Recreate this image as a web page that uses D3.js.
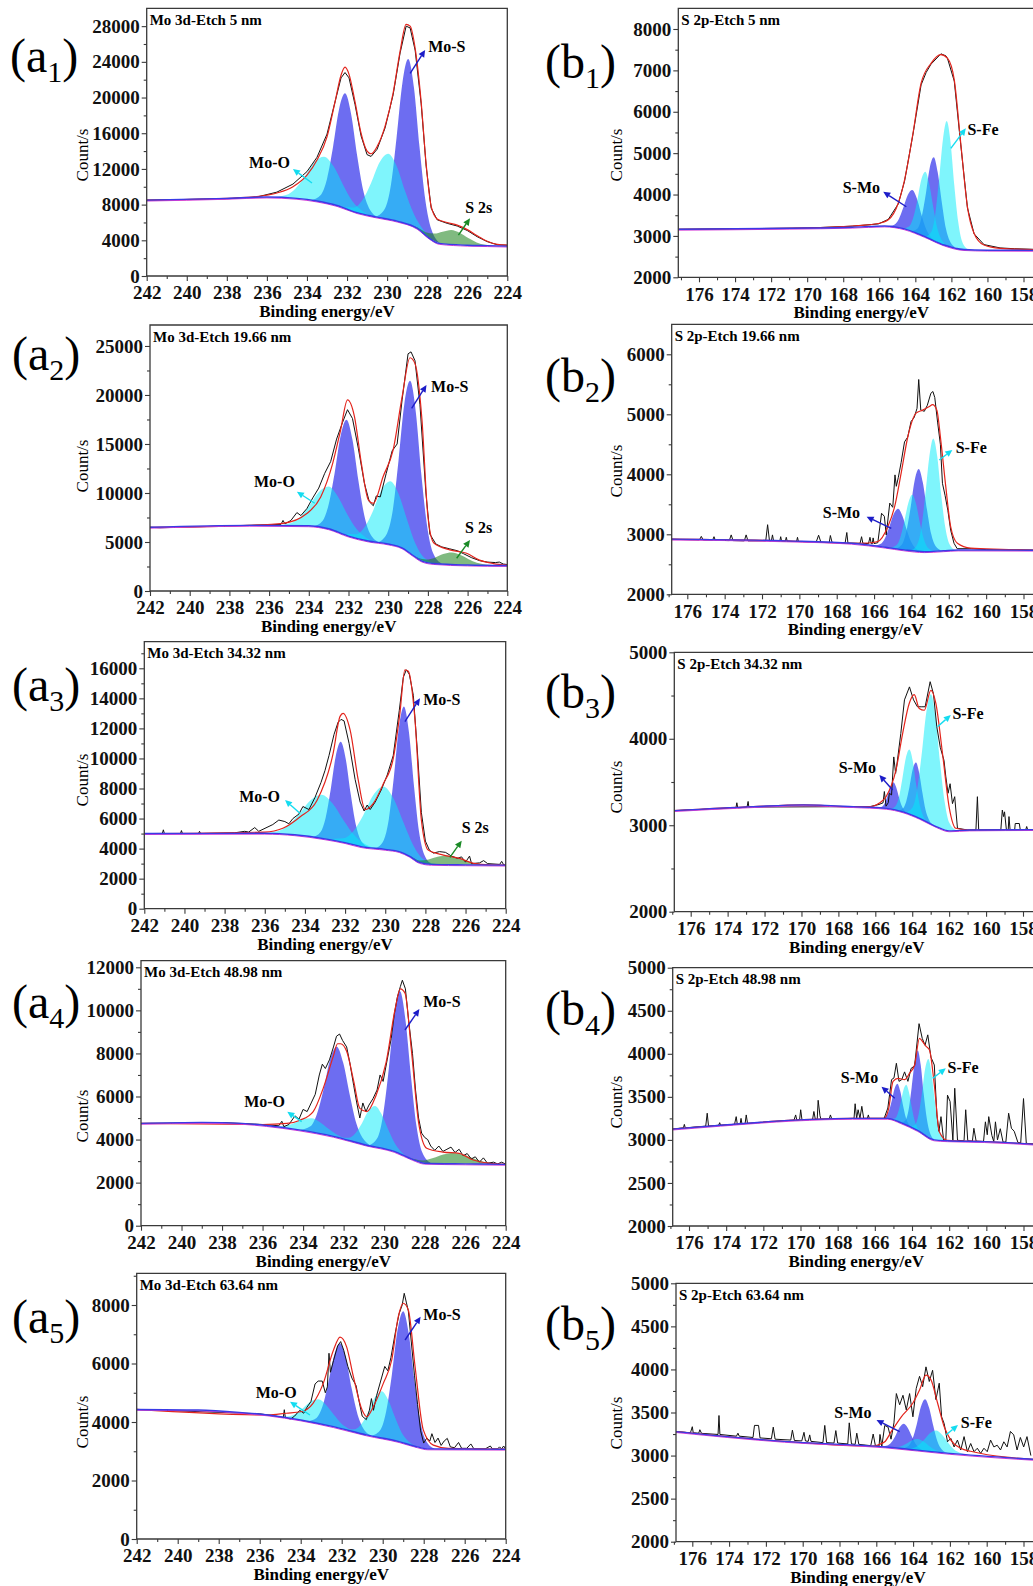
<!DOCTYPE html>
<html>
<head>
<meta charset="utf-8">
<script src="https://cdn.jsdelivr.net/npm/d3@7"></script>
<style>
  body { margin: 0; background: #fff; }
  svg text { font-family: "Liberation Serif", "Times New Roman", serif; }
</style>
</head>
<body>
<svg id="chart" width="1033" height="1586"></svg>
<script>
// ---- tick labels ----
const MO_TICKS = [242, 240, 238, 236, 234, 232, 230, 228, 226, 224];
const S_TICKS = [176, 174, 172, 170, 168, 166, 164, 162, 160, 158];
const a1Y = [0, 4000, 8000, 12000, 16000, 20000, 24000, 28000];
const a2Y = [0, 5000, 10000, 15000, 20000, 25000];
const a3Y = [0, 2000, 4000, 6000, 8000, 10000, 12000, 14000, 16000];
const a4Y = [0, 2000, 4000, 6000, 8000, 10000, 12000];
const a5Y = [0, 2000, 4000, 6000, 8000];
const b1Y = [2000, 3000, 4000, 5000, 6000, 7000, 8000];
const b2Y = [2000, 3000, 4000, 5000, 6000];
const b3Y = [2000, 3000, 4000, 5000];
const b4Y = [2000, 2500, 3000, 3500, 4000, 4500, 5000];
const b5Y = [2000, 2500, 3000, 3500, 4000, 4500, 5000];

// ---- (a1) Mo 3d, 5 nm ----  [eV, counts]; components are [eV, counts above background]
const a1Bg = [[242,8500],[238,8700],[236,8850],[234.5,8700],[233.5,8400],[232.5,7900],[231.5,7100],[230.5,6600],[229.5,6150],[228.5,5350],[227.9,4250],[227.4,3650],[226,3450],[225,3400],[224,3350]];
const a1Env = [[242,8500],[238,8700],[236.5,8900],[235.5,9300],[234.7,10000],[234,11300],[233.5,13000],[233,15600],[232.6,19500],[232.3,22500],[232.1,23400],[231.9,22600],[231.6,19500],[231.3,16000],[231.0,14000],[230.8,13700],[230.5,14500],[230.1,16800],[229.7,20500],[229.35,25200],[229.05,28200],[228.85,28000],[228.6,25500],[228.3,19500],[228.05,12500],[227.8,7800],[227.5,6400],[227.0,6000],[226.5,5700],[226,5200],[225.5,4500],[225,3900],[224.5,3550],[224,3450]];
const a1Raw = [[242,8500],[238,8650],[236.5,8850],[235.5,9400],[234.7,10300],[234,11700],[233.5,13300],[233,15900],[232.6,19500],[232.3,22200],[232.1,22800],[231.9,22200],[231.6,19200],[231.3,15700],[231.0,13600],[230.8,13400],[230.5,14200],[230.1,16600],[229.7,20300],[229.35,25000],[229.05,28000],[228.85,27800],[228.6,25300],[228.3,19300],[228.05,12300],[227.8,7600],[227.5,6300],[227.0,5900],[226.5,5600],[226,5100],[225.5,4400],[225,3850],[224.5,3500],[224,3450]];
const a1MoS52 = [[230.56,0],[230.1,1160],[229.81,3900],[229.53,9300],[229.24,15640],[228.95,18600],[228.66,15640],[228.38,9300],[228.09,3900],[227.8,1160],[227.34,0]];
const a1MoS32 = [[233.78,0],[233.3,806],[233.0,2709],[232.7,6450],[232.4,10850],[232.1,12900],[231.8,10850],[231.5,6450],[231.2,2709],[230.9,806],[230.42,0]];
const a1MoO32 = [[235.81,0],[235.05,322],[234.58,1080],[234.1,2575],[233.63,4330],[233.15,5150],[232.68,4330],[232.2,2575],[231.73,1080],[231.25,322],[230.49,0]];
const a1MoO52 = [[232.33,0],[231.65,460],[231.23,1544],[230.8,3675],[230.38,6180],[229.95,7350],[229.53,6180],[229.1,3675],[228.68,1544],[228.25,460],[227.57,0]];
const a1S2s = [[229.18,0],[228.5,100],[228.08,336],[227.65,800],[227.23,1346],[226.8,1600],[226.38,1346],[225.95,800],[225.53,336],[225.1,100],[224.42,0]];

// ---- (a2) Mo 3d, 19.66 nm ----
const a2Bg = [[242,6500],[237,6700],[234,6650],[233,6350],[232,5600],[231,5100],[230,4800],[229.3,4400],[228.8,3700],[228.3,3050],[227.7,2800],[226,2650],[224,2600]];
const a2Env = [[242,6500],[237,6700],[235.3,6900],[234.1,7900],[233.4,9600],[232.8,13000],[232.4,16400],[232.05,19500],[231.7,17800],[231.35,13000],[231.0,9300],[230.75,8950],[230.25,11700],[229.75,14400],[229.3,19800],[228.9,23800],[228.65,23200],[228.3,17500],[228.0,7600],[227.7,4900],[226.9,4200],[226.05,3850],[225.4,3150],[224.7,2800],[224,2650]];
const a2Raw = [[242,6500],[241.5,6450],[237,6700],[235.4,6800],[235.3,7200],[235.2,6850],[234.9,7200],[234.6,8000],[234.4,7700],[234.1,8400],[233.8,9500],[233.5,10500],[233.2,12000],[232.9,13200],[232.6,15500],[232.3,17200],[232.05,18500],[231.8,17600],[231.5,14500],[231.2,11000],[230.95,9100],[230.75,8700],[230.6,9700],[230.4,9600],[230.1,12000],[229.8,14300],[229.55,15000],[229.3,19500],[229.0,24200],[228.85,24400],[228.65,23500],[228.4,19000],[228.1,10000],[227.9,5800],[227.6,4800],[227.3,4500],[226.9,4300],[226.5,4100],[226.2,3800],[225.8,3400],[225.4,3100],[225,2950],[224.6,2900],[224.4,2950],[224.2,2750],[224,2700]];
const a2MoS52 = [[230.51,0],[230.05,1100],[229.76,3700],[229.48,8800],[229.19,14800],[228.9,17600],[228.61,14800],[228.33,8800],[228.04,3700],[227.75,1100],[227.29,0]];
const a2MoS32 = [[233.78,0],[233.3,740],[233.0,2480],[232.7,5900],[232.4,9920],[232.1,11800],[231.8,9920],[231.5,5900],[231.2,2480],[230.9,740],[230.42,0]];
const a2MoO32 = [[235.66,0],[234.9,270],[234.43,900],[233.95,2150],[233.48,3620],[233.0,4300],[232.53,3620],[232.05,2150],[231.58,900],[231.1,270],[230.34,0]];
const a2MoO52 = [[232.28,0],[231.6,400],[231.18,1355],[230.75,3225],[230.33,5425],[229.9,6450],[229.48,5425],[229.05,3225],[228.63,1355],[228.2,400],[227.52,0]];
const a2S2s = [[229.18,0],[228.5,75],[228.08,252],[227.65,600],[227.23,1010],[226.8,1200],[226.38,1010],[225.95,600],[225.53,252],[225.1,75],[224.42,0]];

// ---- (a3) Mo 3d, 34.32 nm ----
const a3Bg = [[242,5000],[236,5020],[234.5,4920],[233,4650],[232,4400],[231.2,4130],[230,3950],[229.3,3800],[228.8,3500],[228.3,3080],[227.7,2950],[226,2920],[224,2900]];
const a3Env = [[242,5000],[236,5100],[235.1,5350],[234.25,6100],[233.4,7200],[232.6,10300],[232.25,12800],[232.1,13000],[231.75,11900],[231.35,8600],[231.0,6600],[230.6,7000],[230.1,8300],[229.6,10000],[229.27,13000],[229.02,15900],[228.85,15800],[228.52,12600],[228.2,5900],[227.86,3900],[227.1,3570],[226.3,3350],[225.6,3020],[224.8,2920],[224,2910]];
const a3Raw = [[242,5000],[241.1,5010],[241.05,5250],[241,5000],[240.2,5000],[240.15,5200],[240.1,5000],[239.3,5000],[239.25,5150],[239.2,5000],[237.5,5050],[237,5150],[236.8,5100],[236.5,5400],[236.3,5150],[235.6,5600],[235.3,5900],[235.0,5800],[234.8,5650],[234.6,6000],[234.3,6300],[234.1,6800],[233.8,6600],[233.5,7400],[233.2,8400],[233.0,9200],[232.8,10200],[232.55,11600],[232.35,12400],[232.2,12600],[232.05,12500],[231.8,11000],[231.5,8600],[231.25,7100],[231.05,6500],[230.9,6900],[230.75,6600],[230.5,7100],[230.2,7900],[229.9,8900],[229.6,10200],[229.3,13200],[229.1,15400],[228.95,15900],[228.8,15600],[228.6,14200],[228.4,10500],[228.2,6400],[228.0,4500],[227.8,3900],[227.6,3700],[227.3,3800],[227.0,3750],[226.7,3500],[226.4,3350],[226.2,3450],[226.0,3100],[225.8,3500],[225.7,3000],[225.3,3050],[225.1,3200],[224.9,3000],[224.3,2950],[224.2,3150],[224.1,2920],[224,2900]];
const a3MoS52 = [[230.47,0],[230.07,612],[229.82,2058],[229.57,4900],[229.32,8240],[229.07,9800],[228.82,8240],[228.57,4900],[228.32,2058],[228.07,612],[227.67,0]];
const a3MoS32 = [[233.62,0],[233.22,415],[232.97,1397],[232.72,3325],[232.47,5590],[232.22,6650],[231.97,5590],[231.72,3325],[231.47,1397],[231.22,415],[230.82,0]];
const a3MoO32 = [[236.25,0],[235.37,180],[234.82,610],[234.27,1450],[233.72,2440],[233.17,2900],[232.62,2440],[232.07,1450],[231.52,610],[230.97,180],[230.09,0]];
const a3MoO52 = [[232.9,0],[232.1,260],[231.6,875],[231.1,2085],[230.6,3507],[230.1,4170],[229.6,3507],[229.1,2085],[228.6,875],[228.1,260],[227.3,0]];
const a3S2s = [[229.46,0],[228.74,38],[228.29,126],[227.84,300],[227.39,505],[226.94,600],[226.49,505],[226.04,300],[225.59,126],[225.14,38],[224.42,0]];

// ---- (a4) Mo 3d, 48.98 nm ----
const a4Bg = [[242,4750],[239,4800],[237,4750],[235.8,4650],[234.2,4450],[232.5,4150],[230.9,3750],[229.5,3450],[228.6,3080],[228,2900],[226,2870],[224,2850]];
const a4Env = [[242,4750],[236,4700],[234.8,4750],[234.15,4900],[233.5,5300],[233.0,6400],[232.5,7900],[232.3,8450],[232.15,8450],[231.85,8100],[231.5,6700],[231.2,5450],[230.85,5300],[230.4,6050],[229.9,7600],[229.45,10100],[229.2,11000],[228.97,10800],[228.65,8100],[228.3,4800],[227.9,3600],[227.1,3420],[226.3,3360],[225.6,3050],[224.8,2900],[224,2850]];
const a4Raw = [[242,4750],[238,4790],[236,4700],[235.2,4640],[235.05,4850],[234.95,4600],[234.7,4700],[234.4,5100],[234.2,4950],[234.0,5400],[233.8,5300],[233.6,5700],[233.4,6100],[233.2,7000],[233.05,7500],[232.9,7300],[232.7,7700],[232.5,8300],[232.35,8800],[232.2,8900],[232.05,8600],[231.85,8300],[231.7,7600],[231.5,6500],[231.35,5700],[231.2,5000],[231.05,5700],[230.9,5300],[230.75,5600],[230.55,5900],[230.35,6300],[230.2,7000],[230.05,6700],[229.85,7700],[229.65,8700],[229.5,9800],[229.35,10600],[229.2,11100],[229.1,11400],[228.95,11000],[228.8,9600],[228.6,8000],[228.45,6300],[228.3,5000],[228.15,4300],[228.0,4100],[227.85,4000],[227.7,3700],[227.5,3500],[227.3,3700],[227.1,3450],[226.9,3550],[226.7,3650],[226.5,3400],[226.3,3550],[226.1,3250],[225.9,3350],[225.7,3100],[225.5,3200],[225.3,2950],[225.1,3150],[224.9,2900],[224.6,2950],[224.4,2870],[224.2,2950],[224,2860]];
const a4MoS52 = [[230.76,0],[230.32,470],[230.05,1585],[229.77,3775],[229.5,6350],[229.22,7550],[228.95,6350],[228.67,3775],[228.4,1585],[228.12,470],[227.68,0]];
const a4MoS32 = [[234.16,0],[233.64,262],[233.32,882],[232.99,2100],[232.67,3532],[232.34,4200],[232.02,3532],[231.69,2100],[231.37,882],[231.04,262],[230.52,0]];
const a4MoO32 = [[235.82,0],[235.18,40],[234.78,137],[234.38,325],[233.98,547],[233.58,650],[233.18,547],[232.78,325],[232.38,137],[231.98,40],[231.34,0]];
const a4MoO52 = [[232.27,0],[231.75,119],[231.43,400],[231.1,950],[230.78,1598],[230.45,1900],[230.13,1598],[229.8,950],[229.48,400],[229.15,119],[228.63,0]];
const a4S2s = [[229.38,0],[228.58,31],[228.08,105],[227.58,250],[227.08,420],[226.58,500],[226.08,420],[225.58,250],[225.08,105],[224.58,31],[223.78,0]];

// ---- (a5) Mo 3d, 63.64 nm ----
const a5Bg = [[242,4430],[239,4410],[237,4330],[235.6,4240],[234,4070],[232.4,3840],[230.8,3560],[229.2,3330],[228.3,3150],[227.8,3080],[226,3075],[224,3070]];
const a5Env = [[242,4430],[235.6,4240],[234.7,4300],[234.0,4350],[233.4,4640],[232.9,5320],[232.4,6460],[232.08,6900],[231.76,6570],[231.43,5550],[231.0,4400],[230.78,4180],[230.46,4520],[229.97,5320],[229.56,6120],[229.24,7600],[229.0,8060],[228.75,7830],[228.42,5890],[228.02,3730],[227.53,3210],[226.8,3100],[224,3075]];
const a5Raw = [[242,4430],[236,4280],[235.2,4200],[234.85,4150],[234.8,4420],[234.75,4150],[234.5,4100],[234.3,4200],[234.05,4400],[233.85,4300],[233.7,4500],[233.5,4700],[233.3,5300],[233.15,5400],[232.95,5400],[232.8,5000],[232.7,5200],[232.62,6350],[232.55,5700],[232.4,6100],[232.2,6600],[232.05,6750],[231.9,6450],[231.7,5900],[231.5,5500],[231.3,5250],[231.15,4700],[231.0,4200],[230.8,4080],[230.65,4400],[230.55,4800],[230.45,4400],[230.3,4900],[230.1,5400],[229.9,5900],[229.75,5750],[229.6,6200],[229.4,7000],[229.2,7700],[229.05,8000],[228.95,8400],[228.85,8100],[228.75,7800],[228.6,6700],[228.45,5600],[228.3,4600],[228.15,3700],[228.0,3280],[227.85,3450],[227.7,3350],[227.6,3600],[227.45,3300],[227.3,3450],[227.15,3200],[227.0,3350],[226.85,3440],[226.7,3150],[226.5,3120],[226.3,3300],[226.15,3100],[225.9,3100],[225.7,3250],[225.55,3080],[225.0,3080],[224.75,3180],[224.65,3080],[224.4,3080],[224.3,3150],[224.2,3080],[224.1,3180],[224,3075]];
const a5MoS52 = [[230.54,0],[230.1,281],[229.83,945],[229.55,2250],[229.28,3785],[229.0,4500],[228.73,3785],[228.45,2250],[228.18,945],[227.9,281],[227.46,0]];
const a5MoS32 = [[233.69,0],[233.23,181],[232.94,609],[232.66,1450],[232.37,2439],[232.08,2900],[231.79,2439],[231.51,1450],[231.22,609],[230.93,181],[230.47,0]];
const a5MoO32 = [[235.24,0],[234.64,52],[234.27,174],[233.89,415],[233.52,698],[233.14,830],[232.77,698],[232.39,415],[232.02,174],[231.64,52],[231.04,0]];
const a5MoO52 = [[231.87,0],[231.35,100],[231.03,336],[230.7,800],[230.38,1346],[230.05,1600],[229.73,1346],[229.4,800],[229.08,336],[228.75,100],[228.23,0]];

// ---- (b1) S 2p, 5 nm ----
const b1Bg = [[177.2,3160],[171,3185],[167.5,3210],[165.7,3240],[164.6,3170],[163.5,2990],[162.4,2780],[161.3,2670],[160,2655],[157,2650]];
const b1Env = [[177.2,3160],[170,3195],[167.5,3240],[166.05,3300],[165.5,3390],[164.95,3790],[164.6,4350],[164.13,5480],[163.68,6690],[163.13,7170],[162.58,7380],[162.21,7290],[161.84,6770],[161.48,5240],[161.11,3700],[160.74,3060],[160.19,2780],[159.3,2700],[157,2665]];
const b1Raw = [[177.2,3160],[170,3190],[167.5,3235],[166.05,3290],[165.5,3400],[164.95,3770],[164.6,4320],[164.13,5460],[163.68,6650],[163.4,6950],[163.13,7150],[162.58,7400],[162.3,7350],[162.21,7280],[161.84,6740],[161.48,5200],[161.11,3680],[160.74,3050],[160.19,2790],[159.3,2710],[158.5,2690],[157,2670]];
const b1SMo = [[165.57,0],[165.17,63],[164.92,212],[164.67,505],[164.42,849],[164.17,1010],[163.92,849],[163.67,505],[163.42,212],[163.17,63],[162.77,0]];
const b1Cyan1 = [[164.71,0],[164.35,98],[164.13,330],[163.9,785],[163.68,1320],[163.45,1570],[163.23,1320],[163.0,785],[162.78,330],[162.55,98],[162.19,0]];
const b1Blue2 = [[164.24,0],[163.88,126],[163.66,422],[163.43,1005],[163.21,1690],[162.98,2010],[162.76,1690],[162.53,1005],[162.31,422],[162.08,126],[161.72,0]];
const b1SFe = [[163.45,0],[163.11,188],[162.9,632],[162.69,1505],[162.47,2531],[162.26,3010],[162.05,2531],[161.84,1505],[161.62,632],[161.41,188],[161.07,0]];

// ---- (b2) S 2p, 19.66 nm ----
const b2Bg = [[177.2,2920],[170.7,2890],[167.2,2850],[165.4,2785],[164.4,2740],[163.3,2710],[162.3,2725],[161.5,2738],[157,2735]];
const b2Env = [[177.2,2920],[170.7,2890],[167.2,2850],[166.3,2855],[165.8,2880],[165.26,3130],[164.9,3460],[164.55,4020],[164.19,4630],[163.75,5020],[163.4,5070],[163.04,5130],[162.87,5160],[162.64,5070],[162.43,4570],[162.16,3790],[161.9,3130],[161.54,2850],[160.83,2770],[159.2,2750],[157,2735]];
const b2Raw = [[177.2,2920],[175.35,2905],[175.25,2965],[175.15,2905],[174.65,2900],[174.57,2960],[174.5,2900],[173.75,2895],[173.65,2990],[173.55,2895],[172.95,2890],[172.85,2990],[172.75,2890],[171.8,2890],[171.7,3160],[171.6,2890],[171.5,2890],[171.44,2990],[171.38,2890],[171.05,2885],[171.0,2960],[170.95,2885],[170.75,2885],[170.7,2950],[170.65,2885],[170.15,2880],[170.1,2950],[170.05,2880],[169.1,2870],[168.97,2985],[168.85,2870],[168.4,2865],[168.34,2980],[168.25,2865],[167.55,2855],[167.46,3030],[167.4,2855],[166.75,2850],[166.67,2960],[166.6,2850],[166.3,2845],[166.22,2950],[166.15,2845],[166.1,2840],[166.05,2940],[166.0,2845],[165.8,2860],[165.6,3350],[165.45,3300],[165.35,2990],[165.16,3520],[165.0,3450],[164.88,3990],[164.81,3800],[164.7,3950],[164.55,4200],[164.37,4540],[164.2,4620],[164.02,4880],[163.85,4950],[163.7,5100],[163.61,5580],[163.5,5070],[163.4,5060],[163.31,5050],[163.15,5150],[162.96,5350],[162.85,5380],[162.75,5280],[162.6,4870],[162.45,4500],[162.34,3850],[162.2,3650],[162.05,3400],[161.9,3070],[161.72,2850],[161.55,2760],[160.8,2760],[160,2745],[157,2735]];
const b2SMo = [[166.05,0],[165.67,42],[165.43,141],[165.2,335],[164.96,563],[164.72,670],[164.48,563],[164.25,335],[164.01,141],[163.77,42],[163.39,0]];
const b2Cyan1 = [[165.15,0],[164.81,58],[164.6,195],[164.39,465],[164.17,782],[163.96,930],[163.75,782],[163.54,465],[163.32,195],[163.11,58],[162.77,0]];
const b2Blue2 = [[164.87,0],[164.51,86],[164.29,288],[164.06,685],[163.84,1152],[163.61,1370],[163.39,1152],[163.16,685],[162.94,288],[162.71,86],[162.35,0]];
const b2SFe = [[164.02,0],[163.68,118],[163.47,395],[163.26,940],[163.04,1581],[162.83,1880],[162.62,1581],[162.41,940],[162.19,395],[161.98,118],[161.64,0]];

// ---- (b3) S 2p, 34.32 nm ----
const b3Bg = [[177.2,3165],[172.6,3215],[169.9,3235],[167.2,3215],[165.4,3195],[164.5,3155],[163.6,3080],[162.7,2985],[162,2935],[160.9,2945],[157,2950]];
const b3Env = [[177.2,3165],[172.6,3215],[169.9,3235],[167.2,3215],[166.3,3215],[165.8,3255],[165.42,3330],[164.88,3640],[164.52,4060],[164.16,4410],[163.89,4510],[163.62,4350],[163.35,4330],[162.99,4560],[162.72,4410],[162.36,3830],[162.0,3210],[161.64,2965],[160.9,2945],[157,2950]];
const b3Raw = [[177.2,3165],[173.55,3200],[173.5,3260],[173.45,3200],[172.95,3210],[172.89,3275],[172.85,3210],[167.2,3215],[166.3,3215],[165.8,3240],[165.58,3260],[165.51,3390],[165.42,3220],[165.3,3260],[165.24,3370],[165.12,3350],[165.0,3790],[164.9,3600],[164.82,3720],[164.62,4060],[164.42,4450],[164.15,4600],[163.93,4450],[163.72,4370],[163.48,4370],[163.3,4370],[163.03,4660],[162.85,4520],[162.67,4140],[162.48,3900],[162.28,3750],[162.18,3560],[162.06,3370],[161.95,3480],[161.82,3250],[161.7,3330],[161.55,2965],[161.0,2945],[160.55,2945],[160.47,3330],[160.4,2945],[159.2,2948],[159.12,3175],[159.05,3100],[159.0,3155],[158.9,2948],[158.8,2948],[158.76,3100],[158.7,2948],[158.45,2948],[158.42,3020],[158.2,3020],[158.15,2950],[157.85,2950],[157.8,2985],[157.75,2950],[157,2950]];
const b3SMo = [[165.86,0],[165.62,20],[165.47,67],[165.32,160],[165.17,269],[165.02,320],[164.87,269],[164.72,160],[164.57,67],[164.42,20],[164.18,0]];
const b3Cyan1 = [[165.21,0],[164.91,47],[164.72,158],[164.54,375],[164.35,631],[164.16,750],[163.97,631],[163.79,375],[163.6,158],[163.41,47],[163.11,0]];
const b3Blue2 = [[164.78,0],[164.5,39],[164.33,132],[164.15,315],[163.98,530],[163.8,630],[163.63,530],[163.45,315],[163.28,132],[163.1,39],[162.82,0]];
const b3SFe = [[164.39,0],[163.99,94],[163.74,315],[163.49,750],[163.24,1262],[162.99,1500],[162.74,1262],[162.49,750],[162.24,315],[161.99,94],[161.59,0]];

// ---- (b4) S 2p, 48.98 nm ----
const b4Bg = [[177.2,3120],[174.3,3170],[170.3,3230],[167.2,3250],[165.3,3250],[164.6,3200],[163.7,3110],[162.8,3000],[162.1,2990],[160.1,2980],[157,2945]];
const b4Env = [[177.2,3120],[174.3,3170],[170.3,3230],[167.2,3250],[165.5,3250],[165.25,3370],[165.02,3680],[164.75,3715],[164.4,3700],[164.13,3775],[163.86,3870],[163.6,4180],[163.42,4140],[163.24,4085],[163.06,4045],[162.8,3640],[162.53,3095],[162.1,2995],[160.1,2980],[157,2945]];
const b4Raw = [[177.2,3120],[176.3,3140],[176.25,3180],[176.2,3140],[175.1,3160],[175.02,3310],[174.95,3160],[174.4,3170],[174.35,3200],[174.3,3170],[173.55,3180],[173.46,3270],[173.4,3180],[173.25,3185],[173.2,3250],[173.15,3185],[172.98,3190],[172.92,3290],[172.85,3190],[170.35,3230],[170.26,3290],[170.2,3230],[170.05,3232],[169.99,3350],[169.92,3232],[169.35,3238],[169.28,3330],[169.2,3238],[169.1,3240],[169.05,3460],[168.95,3280],[168.9,3240],[168.45,3245],[168.39,3290],[168.32,3245],[167.12,3250],[167.06,3420],[166.98,3250],[166.9,3350],[166.8,3250],[166.7,3390],[166.6,3250],[166.4,3250],[166.35,3290],[166.3,3250],[165.5,3250],[165.3,3370],[165.1,3700],[164.97,3720],[164.84,3890],[164.7,3680],[164.55,3700],[164.4,3790],[164.22,3680],[164.05,3830],[163.86,3860],[163.62,4350],[163.45,4180],[163.3,4100],[163.15,4220],[162.98,3960],[162.8,3870],[162.66,3290],[162.55,3100],[162.44,3270],[162.3,3000],[162.18,2995],[162.09,3520],[161.95,3445],[161.8,2995],[161.7,3600],[161.55,2995],[161.2,2990],[161.11,3350],[161.0,2990],[160.75,2985],[160.67,3135],[160.55,2985],[160.15,2982],[160.05,3210],[159.95,3060],[159.87,3270],[159.7,3050],[159.6,2980],[159.51,3210],[159.4,3000],[159.25,3130],[159.1,2975],[158.95,2975],[158.8,3310],[158.65,3135],[158.5,3100],[158.3,2970],[158.15,2965],[158.0,3480],[157.85,2960],[157,2945]];
const b4SMo = [[165.63,0],[165.39,28],[165.24,92],[165.09,220],[164.94,370],[164.79,440],[164.64,370],[164.49,220],[164.34,92],[164.19,28],[163.95,0]];
const b4Cyan1 = [[165.15,0],[164.91,29],[164.76,99],[164.61,235],[164.46,395],[164.31,470],[164.16,395],[164.01,235],[163.86,99],[163.71,29],[163.47,0]];
const b4Blue2 = [[164.6,0],[164.34,58],[164.18,195],[164.02,465],[163.85,782],[163.69,930],[163.53,782],[163.37,465],[163.2,195],[163.04,58],[162.78,0]];
const b4SFe = [[164.1,0],[163.82,56],[163.65,189],[163.47,450],[163.3,757],[163.12,900],[162.95,757],[162.77,450],[162.6,189],[162.42,56],[162.14,0]];

// ---- (b5) S 2p, 63.64 nm ----
const b5Bg = [[177.2,3285],[171,3165],[165.5,3100],[162,3025],[157,2950]];
const b5Env = [[177.2,3285],[171,3165],[166.2,3110],[165.9,3125],[165.54,3160],[165.18,3280],[164.64,3450],[164.01,3610],[163.65,3760],[163.3,3935],[163.03,3880],[162.67,3610],[162.31,3335],[161.95,3180],[161.41,3085],[160.88,3050],[157,2950]];
const b5Raw = [[177.2,3285],[176.1,3265],[176.0,3335],[175.95,3265],[175.65,3260],[175.59,3300],[175.5,3258],[174.6,3245],[174.55,3465],[174.5,3245],[173.6,3225],[173.52,3260],[173.45,3225],[172.7,3210],[172.62,3350],[172.4,3350],[172.32,3205],[171.7,3195],[171.6,3330],[171.5,3190],[170.65,3180],[170.56,3295],[170.45,3175],[170.05,3170],[169.93,3270],[169.85,3170],[169.7,3165],[169.62,3240],[169.55,3165],[168.9,3150],[168.8,3350],[168.7,3150],[168.3,3145],[168.2,3290],[168.1,3145],[167.55,3135],[167.47,3380],[167.35,3135],[167.15,3130],[167.06,3260],[166.95,3130],[166.3,3115],[166.17,3250],[166.05,3115],[165.85,3110],[165.8,3245],[165.7,3110],[165.54,3350],[165.36,3330],[165.2,3190],[165.04,3380],[164.91,3720],[164.73,3590],[164.55,3700],[164.37,3530],[164.19,3720],[164.01,3450],[163.83,3780],[163.65,3920],[163.48,3800],[163.3,4030],[163.12,3860],[162.94,3990],[162.76,3650],[162.58,3840],[162.45,3450],[162.31,3370],[162.13,3160],[161.95,3200],[161.77,3100],[161.59,3180],[161.41,3065],[161.23,3220],[161.05,3045],[160.87,3140],[160.69,3045],[160.51,3085],[160.33,3026],[160.15,3085],[159.97,3045],[159.79,3180],[159.61,3100],[159.43,3120],[159.25,3065],[159.07,3160],[158.89,3100],[158.71,3280],[158.53,3240],[158.35,3065],[158.17,3210],[157.99,3100],[157.81,3220],[157.6,3000]];
const b5SMo = [[165.76,0],[165.4,18],[165.18,61],[164.95,145],[164.73,244],[164.5,290],[164.28,244],[164.05,145],[163.83,61],[163.6,18],[163.24,0]];
const b5Cyan1 = [[165.43,0],[164.95,8],[164.65,27],[164.35,65],[164.05,109],[163.75,130],[163.45,109],[163.15,65],[162.85,27],[162.55,8],[162.07,0]];
const b5Blue2 = [[164.61,0],[164.25,38],[164.03,126],[163.8,300],[163.58,505],[163.35,600],[163.13,505],[162.9,300],[162.68,126],[162.45,38],[162.09,0]];
const b5SFe = [[164.58,0],[164.06,16],[163.74,52],[163.41,125],[163.09,210],[162.76,250],[162.44,210],[162.11,125],[161.79,52],[161.46,16],[160.94,0]];

// ---- labels placed in data units: text anchor point, arrow head, arrow tail ----
const a1Notes = [['Mo-O','cyan','end',[234.85,12100],[234.7,12000],[233.75,10420]],['Mo-S','blue','start',[227.95,25130],[228.1,25330],[228.85,22700]],['S 2s','green','start',[226.1,7060],[225.86,6470],[226.44,4590]]];
const a2Notes = [['Mo-O','cyan','end',[234.7,10640],[234.6,10130],[233.7,8950]],['Mo-S','blue','start',[227.84,20330],[228.07,21010],[228.82,18640]],['S 2s','green','start',[226.13,5890],[225.88,5200],[226.55,3340]]];
const a3Notes = [['Mo-O','cyan','end',[235.24,7120],[234.99,7235],[234.25,6350]],['Mo-S','blue','start',[228.11,13560],[228.27,14000],[229.02,12450]],['S 2s','green','start',[226.19,5020],[226.19,4530],[226.78,3420]]];
const a4Notes = [['Mo-O','cyan','end',[234.89,5526],[234.78,5294],[234.07,4830]],['Mo-S','blue','start',[228.07,10170],[228.26,10063],[228.97,9088]]];
const a5Notes = [['Mo-O','cyan','end',[234.2,4810],[234.52,4694],[233.55,4240]],['Mo-S','blue','start',[228.02,7488],[228.15,7600],[228.91,6804]]];
const b1Notes = [['S-Mo','blue','end',[165.96,4043],[165.78,4067],[164.5,3705]],['S-Fe','cyan','start',[161.11,5437],[161.2,5600],[162.03,5115]]];
const b2Notes = [['S-Mo','blue','end',[166.75,3267],[166.4,3294],[165.08,3100]],['S-Fe','cyan','start',[161.63,4350],[161.81,4405],[162.51,4239]]];
const b3Notes = [['S-Mo','blue','end',[165.96,3600],[165.78,3581],[165.06,3407]],['S-Fe','cyan','start',[161.82,4229],[161.91,4275],[162.63,4140]]];
const b4Notes = [['S-Mo','blue','end',[165.82,3657],[165.64,3618],[164.93,3483]],['S-Fe','cyan','start',[162.09,3773],[162.18,3832],[162.89,3715]]];
const b5Notes = [['S-Mo','blue','end',[166.26,3433],[165.99,3413],[164.73,3277]],['S-Fe','cyan','start',[161.41,3316],[161.56,3355],[162.22,3239]]];

// ---- panels: layout (px) + references to the data above ----
const PANELS = [
  {id:'a1', sub:'1', title:'Mo 3d-Etch 5 nm', kind:'mo', left:146.7, top:8.3, bottom:276, xr:[146.7,507.3], yd:[0,30000], yt:a1Y, lab:[10,72], ycy:155,
   bg:a1Bg, env:a1Env, raw:a1Raw, blue:[a1MoS52,a1MoS32], cyan:[a1MoO32,a1MoO52], green:[a1S2s], notes:a1Notes},
  {id:'a2', sub:'2', title:'Mo 3d-Etch 19.66 nm', kind:'mo', left:150, top:325, bottom:591, xr:[150,507.3], yd:[0,27140], yt:a2Y, lab:[12,370], ycy:466,
   bg:a2Bg, env:a2Env, raw:a2Raw, blue:[a2MoS52,a2MoS32], cyan:[a2MoO32,a2MoO52], green:[a2S2s], notes:a2Notes},
  {id:'a3', sub:'3', title:'Mo 3d-Etch 34.32 nm', kind:'mo', left:144.3, top:641.7, bottom:908.7, xr:[144.3,505.7], yd:[0,17770], yt:a3Y, lab:[12,701], ycy:780,
   bg:a3Bg, env:a3Env, raw:a3Raw, blue:[a3MoS52,a3MoS32], cyan:[a3MoO32,a3MoO52], green:[a3S2s], notes:a3Notes},
  {id:'a4', sub:'4', title:'Mo 3d-Etch 48.98 nm', kind:'mo', left:141, top:960.7, bottom:1225.7, xr:[141,505.7], yd:[0,12306], yt:a4Y, lab:[12,1018], ycy:1116,
   bg:a4Bg, env:a4Env, raw:a4Raw, blue:[a4MoS52,a4MoS32], cyan:[a4MoO32,a4MoO52], green:[a4S2s], notes:a4Notes},
  {id:'a5', sub:'5', title:'Mo 3d-Etch 63.64 nm', kind:'mo', left:136.7, top:1273.3, bottom:1539, xr:[136.7,505.7], yd:[0,9084], yt:a5Y, lab:[12,1333], ycy:1422,
   bg:a5Bg, env:a5Env, raw:a5Raw, blue:[a5MoS52,a5MoS32], cyan:[a5MoO32,a5MoO52], green:[], notes:a5Notes},
  {id:'b1', sub:'1', title:'S 2p-Etch 5 nm', kind:'s', left:678.3, top:8.3, bottom:277.3, xr:[699,1023.5], yd:[2000,8500], yt:b1Y, lab:[545,78], ycy:155,
   bg:b1Bg, env:b1Env, raw:b1Raw, blue:[b1SMo,b1Blue2], cyan:[b1Cyan1,b1SFe], green:[], notes:b1Notes},
  {id:'b2', sub:'2', title:'S 2p-Etch 19.66 nm', kind:'s', left:671.7, top:324.3, bottom:594.3, xr:[687.3,1023.5], yd:[2000,6500], yt:b2Y, lab:[545,392], ycy:471,
   bg:b2Bg, env:b2Env, raw:b2Raw, blue:[b2SMo,b2Blue2], cyan:[b2Cyan1,b2SFe], green:[], notes:b2Notes},
  {id:'b3', sub:'3', title:'S 2p-Etch 34.32 nm', kind:'s', left:674.3, top:652.3, bottom:911.7, xr:[690.7,1023], yd:[2000,5000], yt:b3Y, lab:[545,708], ycy:787,
   bg:b3Bg, env:b3Env, raw:b3Raw, blue:[b3SMo,b3Blue2], cyan:[b3Cyan1,b3SFe], green:[], notes:b3Notes},
  {id:'b4', sub:'4', title:'S 2p-Etch 48.98 nm', kind:'s', left:672.7, top:967.7, bottom:1226, xr:[689,1023.5], yd:[2000,5000], yt:b4Y, lab:[545,1025], ycy:1102,
   bg:b4Bg, env:b4Env, raw:b4Raw, blue:[b4SMo,b4Blue2], cyan:[b4Cyan1,b4SFe], green:[], notes:b4Notes},
  {id:'b5', sub:'5', title:'S 2p-Etch 63.64 nm', kind:'s', left:676, top:1283.3, bottom:1541.7, xr:[692.3,1023.5], yd:[2000,5000], yt:b5Y, lab:[545,1340], ycy:1423,
   bg:b5Bg, env:b5Env, raw:b5Raw, blue:[b5SMo,b5Blue2], cyan:[b5Cyan1,b5SFe], green:[], notes:b5Notes}
];

const FILL = {blue: 'rgba(58,58,236,0.74)', cyan: 'rgba(0,236,250,0.5)', green: 'rgba(24,130,24,0.55)'};
const ARROW = {blue: '#1c1cc8', cyan: '#14dcf0', green: '#1a8a26'};
const FRAME = '#3a3a3a';

const svg = d3.select('#chart');
const defs = svg.append('defs');

// background value at a binding energy (bg is sorted high -> low eV)
function bgAt(bg, e) {
  if (e >= bg[0][0]) return bg[0][1];
  for (let i = 1; i < bg.length; i++) {
    if (e >= bg[i][0]) {
      const [x0, y0] = bg[i - 1];
      const [x1, y1] = bg[i];
      return y0 + (y1 - y0) * (e - x0) / (x1 - x0);
    }
  }
  return bg[bg.length - 1][1];
}

function minorBetween(ticks, lo, hi) {
  const out = [];
  const step = Math.abs(ticks[1] - ticks[0]);
  const a = Math.min(lo, hi), b = Math.max(lo, hi);
  for (let v = Math.min(...ticks) - step / 2; v <= b; v += step) {
    if (v >= a && v <= b && !ticks.includes(v)) out.push(v);
  }
  return out;
}

function drawPanel(p) {
  const right = p.kind === 'mo' ? p.xr[1] : 1045;
  const xd = p.kind === 'mo' ? [242, 224] : [176, 158];
  const x = d3.scaleLinear().domain(xd).range(p.xr);
  const y = d3.scaleLinear().domain(p.yd).range([p.bottom, p.top]);
  const xTicks = p.kind === 'mo' ? MO_TICKS : S_TICKS;

  const g = svg.append('g').attr('class', 'panel-' + p.id);

  defs.append('clipPath').attr('id', 'clip-' + p.id)
    .append('rect')
    .attr('x', p.left).attr('y', p.top)
    .attr('width', right - p.left).attr('height', p.bottom - p.top);

  const plot = g.append('g').attr('clip-path', `url(#clip-${p.id})`);

  const area = d3.area()
    .x((d) => x(d[0]))
    .y0((d) => y(bgAt(p.bg, d[0])))
    .y1((d) => y(bgAt(p.bg, d[0]) + d[1]))
    .curve(d3.curveMonotoneX);

  const smooth = d3.line().x((d) => x(d[0])).y((d) => y(d[1])).curve(d3.curveMonotoneX);
  const jagged = d3.line().x((d) => x(d[0])).y((d) => y(d[1]));

  p.blue.forEach((c) => plot.append('path').attr('d', area(c)).attr('fill', FILL.blue));
  p.cyan.forEach((c) => plot.append('path').attr('d', area(c)).attr('fill', FILL.cyan));
  p.green.forEach((c) => plot.append('path').attr('d', area(c)).attr('fill', FILL.green));

  plot.append('path').attr('d', jagged(p.raw))
    .attr('fill', 'none').attr('stroke', '#111').attr('stroke-width', 1);
  plot.append('path').attr('d', smooth(p.env))
    .attr('fill', 'none').attr('stroke', '#e3241c').attr('stroke-width', 1.2);
  plot.append('path').attr('d', smooth(p.bg))
    .attr('fill', 'none').attr('stroke', '#d23cd6').attr('stroke-width', 1)
    .attr('transform', 'translate(0,0.9)');
  plot.append('path').attr('d', smooth(p.bg))
    .attr('fill', 'none').attr('stroke', '#3a3ae6').attr('stroke-width', 1.4);

  // frame
  g.append('path')
    .attr('d', p.kind === 'mo'
      ? `M${p.left},${p.top}H${right}V${p.bottom}H${p.left}Z`
      : `M${right},${p.top}H${p.left}V${p.bottom}H${right}`)
    .attr('fill', 'none').attr('stroke', FRAME).attr('stroke-width', 1.3);

  // axes
  const styleAxis = (sel) => {
    sel.select('.domain').remove();
    sel.selectAll('line').attr('stroke', FRAME).attr('stroke-width', 1.1);
    sel.selectAll('text')
      .attr('font-family', '"Liberation Serif", "Times New Roman", serif')
      .attr('font-size', 19).attr('font-weight', 'bold').attr('fill', '#111');
  };

  g.append('g').attr('transform', `translate(0,${p.bottom})`)
    .call(d3.axisBottom(x).tickValues(xTicks).tickSize(5).tickPadding(5).tickFormat(d3.format('d')))
    .call(styleAxis);
  g.append('g').attr('transform', `translate(0,${p.bottom})`)
    .call(d3.axisBottom(x).tickValues(minorBetween(xTicks, xd[0] + (p.kind === 's' ? 1.2 : 0), xd[1])).tickSize(3).tickFormat(''))
    .call(styleAxis);

  g.append('g').attr('transform', `translate(${p.left},0)`)
    .call(d3.axisLeft(y).tickValues(p.yt).tickSize(5).tickPadding(2).tickFormat(d3.format('d')))
    .call(styleAxis);
  g.append('g').attr('transform', `translate(${p.left},0)`)
    .call(d3.axisLeft(y).tickValues(minorBetween(p.yt, p.yd[0], p.yd[1] - 1)).tickSize(3).tickFormat(''))
    .call(styleAxis);

  // axis titles
  g.append('text')
    .attr('x', (p.xr[0] + p.xr[1]) / 2).attr('y', p.bottom + 41)
    .attr('text-anchor', 'middle').attr('font-size', 17).attr('font-weight', 'bold')
    .text('Binding energy/eV');

  g.append('text')
    .attr('transform', `translate(${p.kind === 'mo' ? 82 : 616},${p.ycy}) rotate(-90)`)
    .attr('text-anchor', 'middle').attr('dy', '0.35em').attr('font-size', 17)
    .text('Count/s');

  // title inside the frame
  g.append('text')
    .attr('x', p.left + 3).attr('y', p.top + 16.5)
    .attr('font-size', 15).attr('font-weight', 'bold')
    .text(p.title);

  // panel label like (a1)
  const lab = g.append('text').attr('x', p.lab[0]).attr('y', p.lab[1]).attr('font-size', 48);
  lab.append('tspan').text('(' + p.id[0]);
  lab.append('tspan').attr('font-size', 30).attr('dy', 10).text(p.sub);
  lab.append('tspan').attr('dy', -10).text(')');

  // peak labels with arrows
  p.notes.forEach(([label, kind, anchor, at, head, tail]) => {
    const hx = x(head[0]), hy = y(head[1]);
    const tx = x(tail[0]), ty = y(tail[1]);
    const ang = Math.atan2(hy - ty, hx - tx);
    const L = 7, W = 3.3;
    const bx = hx - L * Math.cos(ang), by = hy - L * Math.sin(ang);
    g.append('line')
      .attr('x1', tx).attr('y1', ty).attr('x2', bx).attr('y2', by)
      .attr('stroke', ARROW[kind]).attr('stroke-width', 1.4);
    g.append('path')
      .attr('d', `M${hx},${hy}L${bx - W * Math.sin(ang)},${by + W * Math.cos(ang)}L${bx + W * Math.sin(ang)},${by - W * Math.cos(ang)}Z`)
      .attr('fill', ARROW[kind]);
    g.append('text')
      .attr('x', x(at[0])).attr('y', y(at[1]))
      .attr('text-anchor', anchor)
      .attr('font-size', 16).attr('font-weight', 'bold')
      .text(label);
  });
}

PANELS.forEach(drawPanel);
</script>
</body>
</html>
